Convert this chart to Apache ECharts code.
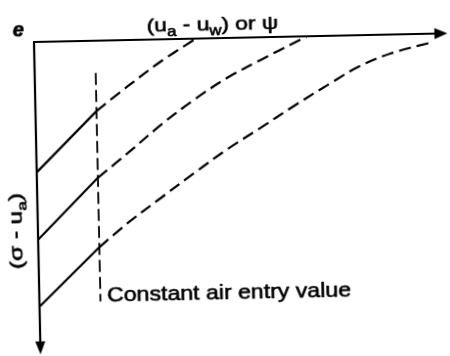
<!DOCTYPE html>
<html>
<head>
<meta charset="utf-8">
<script src="https://cdn.jsdelivr.net/npm/echarts@6/dist/echarts.min.js"></script>
<style>
  html, body { margin: 0; padding: 0; background: #fff; overflow: hidden; }
  #chart { width: 450px; height: 356px; transform: rotate(-1.2deg); transform-origin: 34px 42px; }
</style>
</head>
<body>
<div id="chart"></div>
<script>
// Void ratio schematic: matric suction to the right, net normal stress downward.
// Each curve is a list of [suction, net normal stress] points; the first two points
// form the saturated (solid) branch, the rest the desaturating (dashed) branch.
const suctionRange = [0, 100];
const stressRange = [0, 100];
const curveLow  = [[0, 42.6], [15, 23.0], [22.8, 15.1], [31.1, 7.2], [39.8, 0]];
const curveMid  = [[0, 64.6], [15, 44.8], [22.5, 36.9], [30.8, 27.9], [39.1, 19.9], [47.3, 13.0], [55.6, 7.4], [67.1, 0]];
const curveHigh = [[0, 86.5], [15, 67.5], [22.1, 59.8], [30.4, 51.8], [38.7, 43.9], [47.0, 36.3], [55.2, 29.6], [63.5, 22.7], [73.4, 14.9], [79.6, 10.3], [87.5, 6.2], [97.6, 2.9]];
// Constant air entry value: a vertical line at one suction
const airEntrySuction = 15;
const airEntryStress = [10.5, 85.2];

const FONT = '"Liberation Sans", Arial, Helvetica, sans-serif';
const INK = '#000';
const TEXT_STROKE = { stroke: INK, lineWidth: 0.6 };

function solidPart(pts) {
  return {
    type: 'line', data: pts.slice(0, 2), showSymbol: false, silent: true,
    lineStyle: { color: INK, width: 2.2 }
  };
}
function dashedPart(pts) {
  return {
    type: 'line', data: pts.slice(1), showSymbol: false, silent: true, smooth: 0.35,
    lineStyle: { color: INK, width: 2.2, type: [12, 6] }
  };
}

const series = [];
[curveLow, curveMid, curveHigh].forEach(c => { series.push(solidPart(c), dashedPart(c)); });
series.push({
  type: 'line', showSymbol: false, silent: true,
  data: airEntryStress.map(s => [airEntrySuction, s]),
  lineStyle: { color: INK, width: 1.8, type: [12, 5] }
});

const axisLine = (symbol, size) => ({
  show: true, onZero: false,
  lineStyle: { color: INK, width: 2.2 },
  symbol: symbol, symbolSize: size
});

const chart = echarts.init(document.getElementById('chart'), null, { renderer: 'canvas' });
chart.setOption({
  animation: false,
  backgroundColor: '#fff',
  grid: { left: 34, top: 42, width: 407, height: 306 },
  xAxis: {
    type: 'value', position: 'top', min: suctionRange[0], max: suctionRange[1],
    axisLine: axisLine(['none', 'triangle'], [11, 13]),
    axisTick: { show: false }, axisLabel: { show: false }, splitLine: { show: false }
  },
  yAxis: {
    type: 'value', inverse: true, min: stressRange[0], max: stressRange[1],
    axisLine: axisLine(['triangle', 'none'], [10, 13]),
    axisTick: { show: false }, axisLabel: { show: false }, splitLine: { show: false }
  },
  series: series,
  graphic: [
    {
      type: 'text', x: 18.5, y: 30, silent: true,
      style: Object.assign({
        text: 'e', fontSize: 20, fontStyle: 'italic', fontWeight: 'bold', fontFamily: FONT,
        fill: INK, align: 'center', verticalAlign: 'middle'
      }, TEXT_STROKE)
    },
    {
      type: 'text', x: 147, y: 29, scaleX: 1.2, silent: true,
      style: {
        text: '{m|(u}{s|a}{m| - u}{s|w}{m|) or ψ}',
        align: 'left', verticalAlign: 'middle', fill: INK,
        rich: {
          m: Object.assign({ fontSize: 19, fontFamily: FONT, fill: INK }, TEXT_STROKE),
          s: Object.assign({ fontSize: 14, fontFamily: FONT, fill: INK, padding: [12, 0, 0, 0] }, TEXT_STROKE)
        }
      }
    },
    {
      type: 'text', x: 13, y: 230.6, rotation: Math.PI / 2, scaleX: 1.35, silent: true,
      style: {
        text: '{m|(σ - u}{s|a}{m|)}',
        align: 'center', verticalAlign: 'middle', fill: INK,
        rich: {
          m: Object.assign({ fontSize: 18, fontFamily: FONT, fill: INK }, TEXT_STROKE),
          s: Object.assign({ fontSize: 13, fontFamily: FONT, fill: INK, padding: [12, 0, 0, 0] }, TEXT_STROKE)
        }
      }
    },
    {
      type: 'text', x: 101.8, y: 297.3, scaleX: 1.1, silent: true,
      style: Object.assign({
        text: 'Constant air entry value', fontSize: 21, fontFamily: FONT,
        fill: INK, align: 'left', verticalAlign: 'middle'
      }, TEXT_STROKE)
    }
  ]
});
</script>
</body>
</html>
